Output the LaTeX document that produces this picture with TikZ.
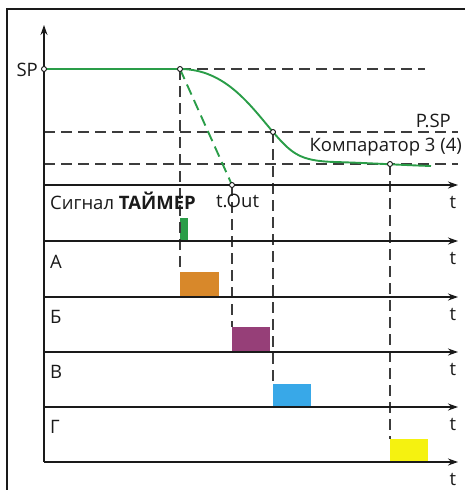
\documentclass[tikz,border=0pt]{standalone}
\usepackage{fontspec}
\setmainfont{Open Sans}
\usetikzlibrary{arrows.meta}
\definecolor{cgreen}{HTML}{2A9D48}
\definecolor{corange}{HTML}{D8882A}
\definecolor{cpurple}{HTML}{963F78}
\definecolor{cblue}{HTML}{38A8E8}
\definecolor{cyellow}{HTML}{F5F210}
\definecolor{cline}{HTML}{1A1A1A}
\tikzset{
  axisline/.style={draw=cline, line width=1.3pt, -{Stealth[length=10pt,width=7pt]}},
  guide/.style={draw=cline!85, line width=1.2pt, dash pattern=on 11pt off 6pt},
  curveline/.style={draw=cgreen, line width=1.9pt},
  dot/.style={circle, draw=cline, fill=white, line width=0.9pt, inner sep=0pt, minimum size=5pt},
  lbl/.style={font=\fontsize{18.5}{20}\selectfont, inner sep=0pt, text=cline},
}
\begin{document}
\begin{tikzpicture}[x=1pt,y=-1pt]
\useasboundingbox (0,0) rectangle (465,490);
% frame
\draw[cline, line width=1.2pt] (7,490) -- (7,9) -- (465,9);
% pulses
\fill[cgreen] (180,218) rectangle (188,241);
\fill[corange] (180,272) rectangle (219,297);
\fill[cpurple] (232,327) rectangle (270,352);
\fill[cblue] (273,384) rectangle (311,407);
\fill[cyellow] (390,439) rectangle (428,462);
% coordinates
\coordinate (sp) at (44,69);
\coordinate (k1) at (180,69);
\coordinate (k2) at (273,132);
\coordinate (k3) at (390,164);
\coordinate (tout) at (232,185);
\coordinate (end) at (431,166);
% guides horizontal
\draw[guide] (k1) -- (425,69);
\draw[guide] (44,132) -- (458,132);
\draw[guide] (44,164) -- (458,164);
% guides vertical
\draw[guide] (k1) -- (180,272);
\draw[guide] (tout) -- (232,327);
\draw[guide] (k2) -- (273,384);
\draw[guide] (k3) -- (390,439);
% time axes
\foreach \y in {185,241,297,352,407,462}{
  \draw[axisline] (44,\y) -- (458,\y);
  \node[lbl] at (453,\y+17) {t};
}
% vertical axis
\draw[axisline] (44,462) -- (44,25);
% curves
\draw[curveline] (sp) -- (k1);
\draw[curveline] (k1) .. controls (225,69) and (250,105) .. (k2)
  .. controls (292,154) and (300,161) .. (335,162)
  .. controls (370,163) and (400,165) .. (end);
\draw[curveline, dash pattern=on 11pt off 6pt] (k1) -- (tout);
% dots
\node[dot] (dsp) at (sp) {};
\node[dot] (dk1) at (k1) {};
\node[dot] (dk2) at (k2) {};
\node[dot] (dk3) at (k3) {};
\node[dot] (dto) at (tout) {};
% labels
\node[lbl, anchor=east] (lsp) at (38,70) {SP};
\node[lbl, anchor=east] (lpsp) at (451,121) {P.SP};
\node[lbl, anchor=east] (lkomp) at (462,147) {Компаратор 3 (4)};
\node[lbl, anchor=west] (lsig) at (50,201) {Сигнал \textbf{ТАЙМЕР}};
\node[lbl, anchor=west] (lto) at (216,201) {t.Out};
\node[lbl, anchor=west] (la) at (50,262) {А};
\node[lbl, anchor=west] (lb) at (50,317) {Б};
\node[lbl, anchor=west] (lv) at (50,372) {В};
\node[lbl, anchor=west] (lg) at (50,427) {Г};
\end{tikzpicture}
\end{document}
